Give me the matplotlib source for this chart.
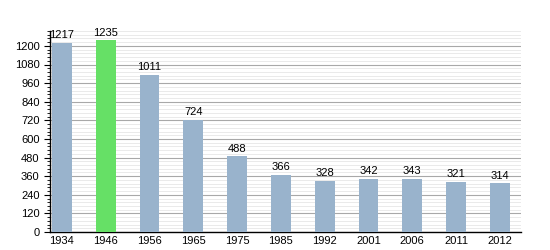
import matplotlib
matplotlib.use("Agg")
import matplotlib.pyplot as plt
from matplotlib.ticker import MultipleLocator

years = ["1934", "1946", "1956", "1965", "1975", "1985", "1992", "2001", "2006", "2011", "2012"]
population = [1217, 1235, 1011, 724, 488, 366, 328, 342, 343, 321, 314]
bar_colors = ["#99b3cc", "#66e066"] + ["#99b3cc"] * 9

plt.rcParams['font.family'] = ['Liberation Sans', 'DejaVu Sans']

fig = plt.figure(figsize=(5.5, 2.5), dpi=100)
ax = fig.add_axes([0.091, 0.072, 0.856, 0.804])

x = range(len(years))
bars = ax.bar(x, population, width=0.45, color=bar_colors, zorder=3)
for xi, v in zip(x, population):
    ax.annotate(str(v), (xi, v), xytext=(0, 2), textcoords="offset points",
                ha="center", va="bottom", fontsize=8)

ax.set_xlim(-0.27, 10.48)
ax.set_ylim(0, 1296)
ax.set_xticks(list(x))
ax.set_xticklabels(years, fontsize=8)
ax.yaxis.set_major_locator(MultipleLocator(120))
ax.yaxis.set_minor_locator(MultipleLocator(24))
ax.tick_params(axis="y", labelsize=8, direction="out", length=4, width=0.8)
ax.tick_params(axis="y", which="minor", direction="out", length=2, width=0.6)
ax.tick_params(axis="x", length=0, pad=3)

ax.grid(axis="y", which="major", color="#a8a8a8", linewidth=0.8, zorder=1)
ax.grid(axis="y", which="minor", color="#e6e6e6", linewidth=0.6, zorder=0)
for s in ["top", "right"]:
    ax.spines[s].set_visible(False)
ax.spines["left"].set_linewidth(1)
ax.spines["bottom"].set_linewidth(1)

fig.savefig("out.png", dpi=100)
